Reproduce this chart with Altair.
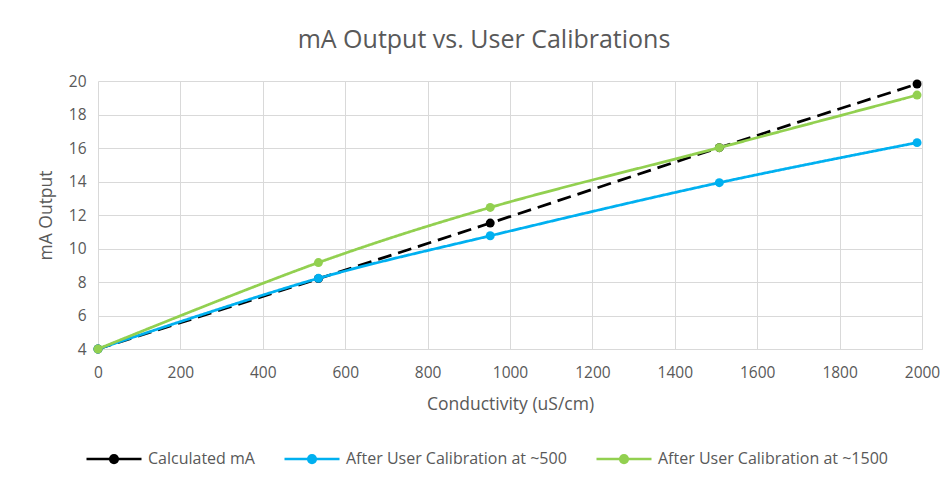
import altair as alt
import pandas as pd

conductivity = [0, 535, 952, 1508, 1988]
calculated_ma = [4.0, 8.2, 11.52, 16.02, 19.82]
after_cal_500 = [4.0, 8.22, 10.76, 13.93, 16.32]
after_cal_1500 = [4.0, 9.16, 12.45, 16.02, 19.16]
series_names = ["Calculated mA", "After User Calibration at ~500", "After User Calibration at ~1500"]
series_colors = ["#000000", "#00B0F0", "#92D050"]
x_ticks = [0, 200, 400, 600, 800, 1000, 1200, 1400, 1600, 1800, 2000]
y_ticks = [4, 6, 8, 10, 12, 14, 16, 18, 20]

rows = []
for name, vals in zip(series_names, [calculated_ma, after_cal_500, after_cal_1500]):
    for x, y in zip(conductivity, vals):
        rows.append({"series": name, "x": x, "y": y})
df = pd.DataFrame(rows)

FONT = "Open Sans"
GRAY = "#595959"

legend_path = ("M-1,0H1"
               "M0.14,0A0.14,0.14,0,1,1,-0.14,0A0.14,0.14,0,1,1,0.14,0"
               "M0.09,0A0.09,0.09,0,1,1,-0.09,0A0.09,0.09,0,1,1,0.09,0"
               "M0.04,0A0.04,0.04,0,1,1,-0.04,0A0.04,0.04,0,1,1,0.04,0")

color = alt.Color(
    "series:N",
    scale=alt.Scale(domain=series_names, range=series_colors),
    legend=alt.Legend(
        title=None, orient="none", direction="horizontal",
        legendX=-13, legendY=349,
        symbolType=legend_path, symbolSize=3025, symbolStrokeWidth=2.5,
        labelFont=FONT, labelFontSize=16, labelColor=GRAY, labelLimit=0,
        columnPadding=24, labelOffset=5,
    ),
)

xenc = alt.X("x:Q", scale=alt.Scale(domain=[0, 2000], nice=False),
             axis=alt.Axis(values=x_ticks, title="Conductivity (uS/cm)", format="d",
                           labelFlush=False))
yenc = alt.Y("y:Q", scale=alt.Scale(domain=[4, 20], nice=False),
             axis=alt.Axis(values=y_ticks, title="mA Output"))

layers = []
for name in series_names:
    d = df[df.series == name]
    dash = [14, 7] if name == "Calculated mA" else [1, 0]
    line = alt.Chart(d).mark_line(interpolate="catmull-rom", strokeWidth=2.75, strokeDash=dash).encode(
        x=xenc, y=yenc, color=color)
    pts = alt.Chart(d).mark_point(filled=True, size=80, opacity=1).encode(
        x=xenc, y=yenc, color=color)
    layers += [line, pts]

chart = alt.layer(*layers).properties(
    width=824, height=268,
    title=alt.TitleParams("mA Output vs. User Calibrations", font=FONT, fontSize=25,
                          fontWeight="normal", color=GRAY, dx=-26, offset=21),
    autosize=alt.AutoSizeParams(type="none"),
    padding={"left": 90, "top": 73, "right": 22, "bottom": 125},
).configure_axis(
    gridColor="#d9d9d9", domainColor="#d9d9d9", ticks=False,
    labelFont=FONT, labelFontSize=15.5, labelColor=GRAY,
    titleFont=FONT, titleFontSize=17.5, titleColor=GRAY, titleFontWeight="normal",
).configure_axisY(domain=False, labelPadding=12, titlePadding=13).configure_axisX(
    labelPadding=16, titlePadding=15
).configure_view(stroke=None)

chart.save("out.html", embed_options={"renderer": "svg", "actions": False})
